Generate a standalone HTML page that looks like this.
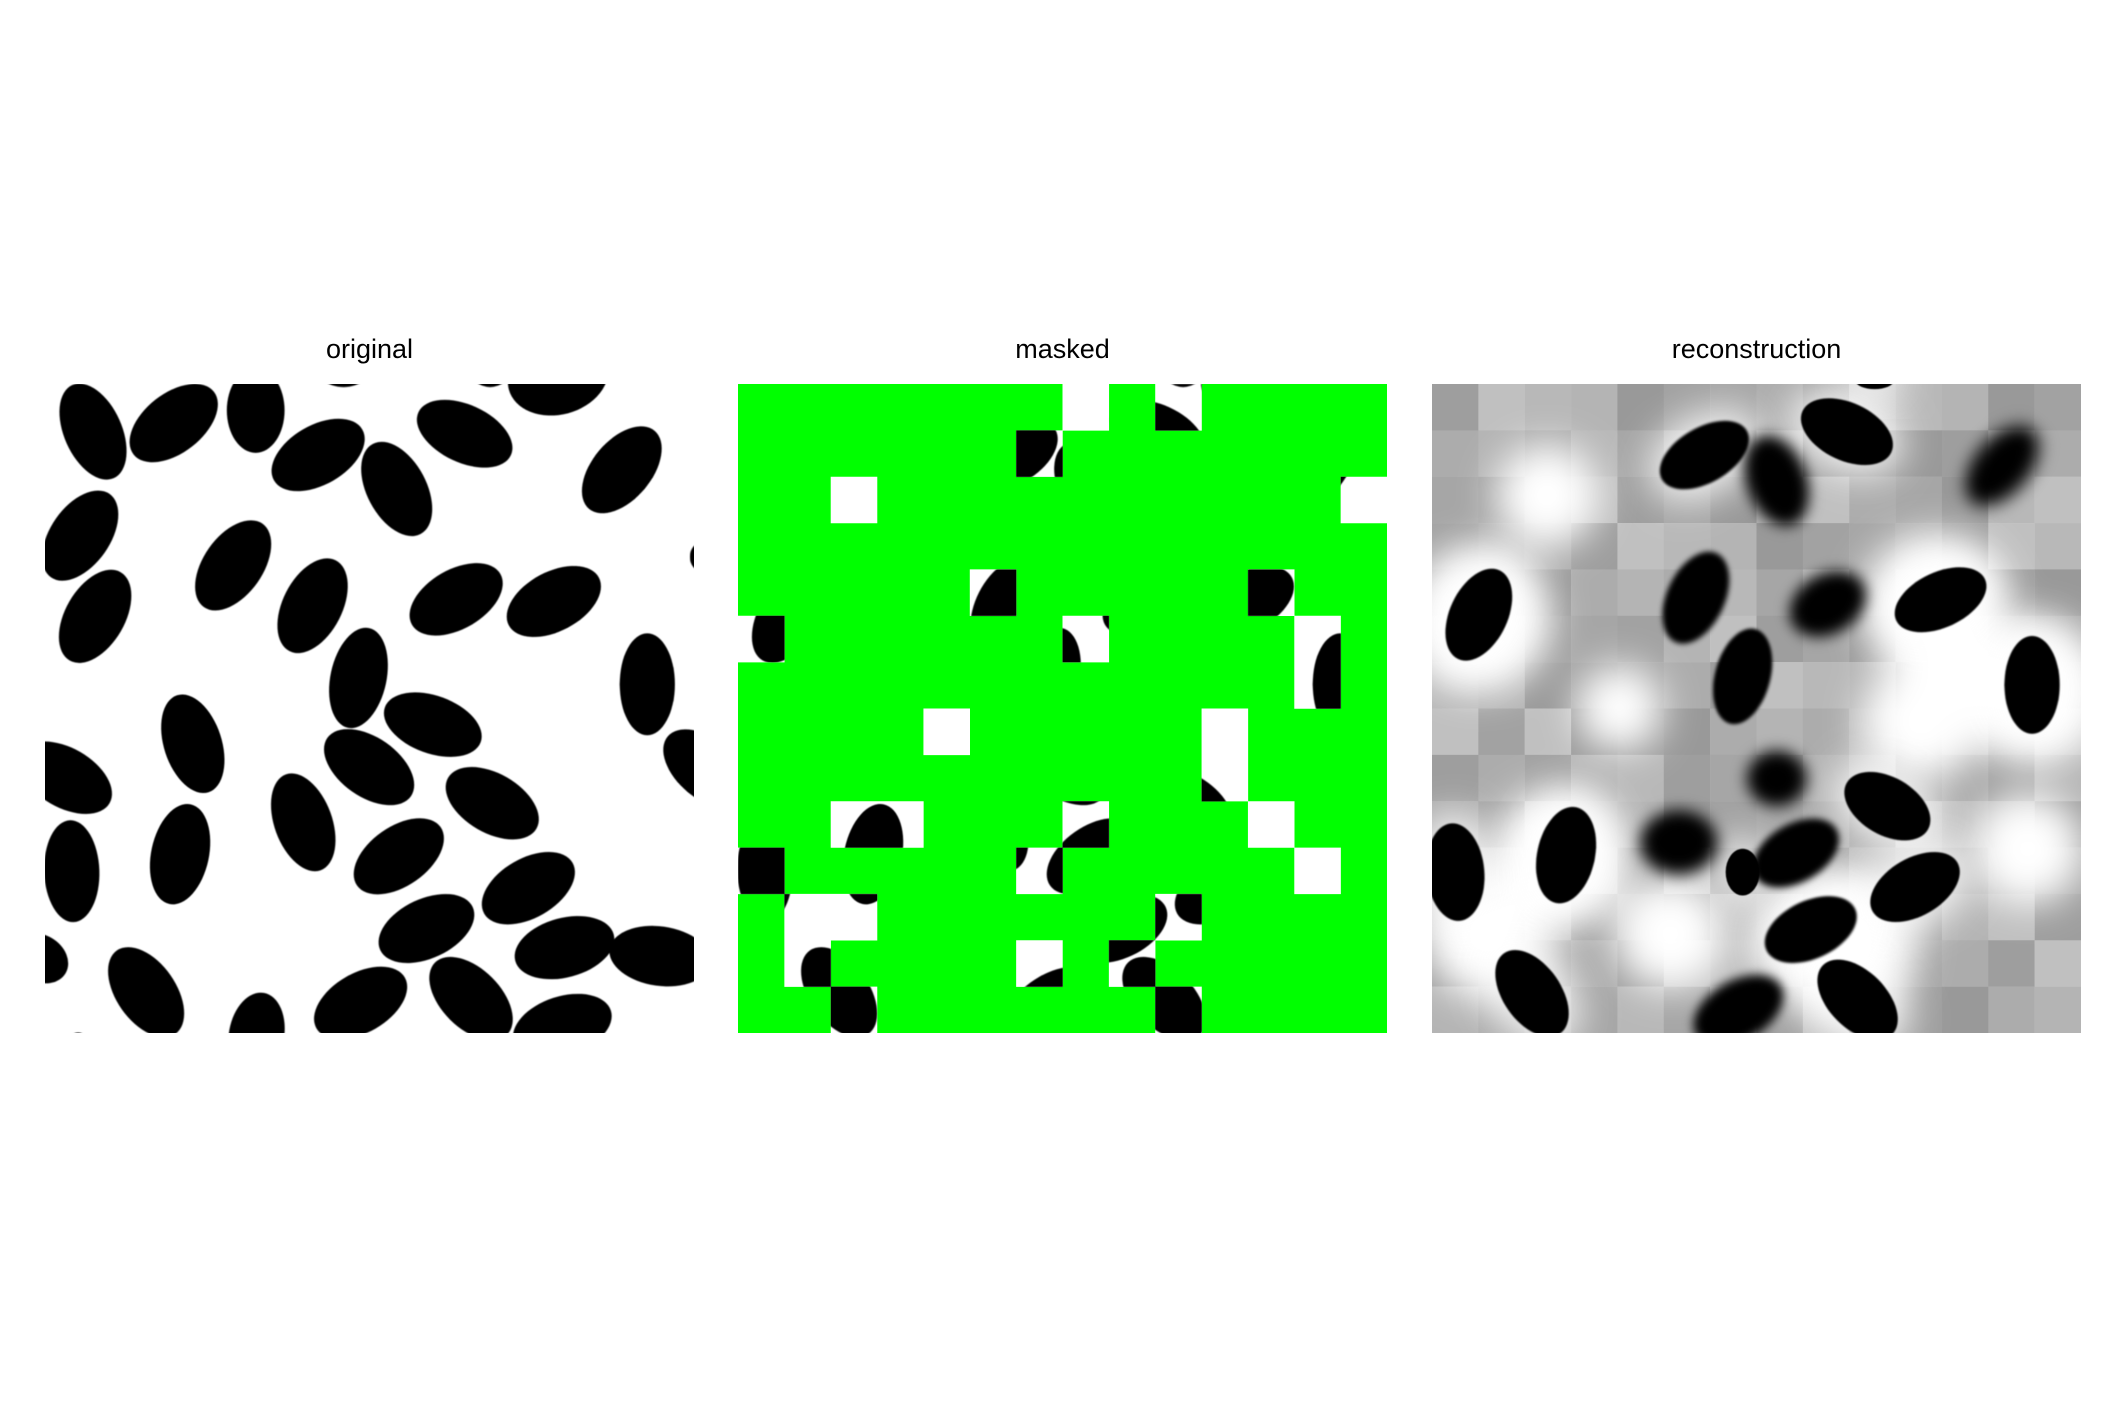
<!DOCTYPE html>
<html><head><meta charset="utf-8">
<style>
html,body{margin:0;padding:0;background:#fff;}
body{width:2125px;height:1417px;position:relative;overflow:hidden;font-family:"Liberation Sans",Arial,sans-serif;}
.title{position:absolute;top:334px;width:649px;text-align:center;font-size:27px;color:#000;}
svg.panel{position:absolute;top:384px;width:649px;height:649px;}
</style></head>
<body>
<div class="title" style="left:45px">original</div>
<div class="title" style="left:738px">masked</div>
<div class="title" style="left:1432px">reconstruction</div>
<svg class="panel" id="p1" style="left:45px" viewBox="12 8 1528 1528" preserveAspectRatio="none"></svg>
<svg class="panel" id="p2" style="left:738px" viewBox="12 8 1528 1528" preserveAspectRatio="none"></svg>
<svg class="panel" id="p3" style="left:1432px" viewBox="0 8 1525 1525" preserveAspectRatio="none"></svg>
<script>
// original ellipses: cx, cy, rx, ry, rotation
const origCx=[125,315,508,715,1060,1220,655,840,1000,1370,95,1560,455,130,642,980,1210,750,1430,360,925,60,775,1570,1065,620,75,330,845,1150,910,0,1235,1460,250,510,755,1015,1230,90];
const origCy=[120,100,70,-40,-30,-10,175,255,125,210,365,415,435,555,530,515,520,700,715,855,810,935,910,915,995,1040,1155,1115,1120,1195,1290,1360,1335,1355,1440,1540,1465,1455,1520,1545];
const origRx=[120,120,100,70,50,120,120,120,120,120,120,30,120,120,120,120,120,120,120,120,120,120,120,120,120,120,120,120,120,120,120,70,120,120,120,100,120,120,120,15];
const origRy=[68,70,68,55,45,90,70,70,68,70,70,35,70,70,70,70,70,66,65,68,68,70,70,70,70,68,65,68,70,70,70,55,70,70,70,65,70,70,70,10];
const origRot=[66,-38,90,0,0,-15,-30,62,25,-50,-55,0,-55,-60,-63,-30,-28,-78,90,72,20,30,35,40,30,70,88,-78,-35,-30,-25,30,-15,8,55,-80,-30,45,-18,0];
// visible (unmasked) patches: column, row on a 14x14 grid
const visCol=[7,9,6,2,13,5,11,0,7,12,12,4,10,10,2,3,7,11,0,6,12,1,2,9,1,6,8,2,9];
const visRow=[0,0,1,2,2,4,4,5,5,5,6,7,7,8,9,9,9,9,10,10,10,11,11,11,12,12,12,13,13];
// reconstruction ellipses: cx, cy, rx, ry, rotation, blur
const recCx=[640,975,1040,810,1340,110,620,930,1195,730,1410,810,1070,55,315,580,855,1135,890,235,720,1000,730];
const recCy=[175,120,0,235,200,550,510,525,515,695,715,935,1000,1155,1115,1085,1110,1190,1290,1440,1480,1455,1155];
const recRx=[115,115,45,110,110,115,115,95,115,115,115,70,110,115,115,90,110,115,115,115,115,115,40];
const recRy=[65,68,20,70,65,68,68,70,65,65,65,65,68,68,68,75,68,68,68,68,70,68,55];
const recRot=[-30,25,0,70,-50,-65,-65,-30,-25,-75,90,0,30,85,-78,0,-30,-30,-25,55,-30,45,0];
const recBlur=[3,2,1,16,20,2,6,16,2,4,2,18,2,2,2,18,8,2,3,2,12,2,1];
// reconstruction white halo blobs
const haloX=[270,1150,1400,130,110,1410,300,960,1180,560,440];
const haloY=[270,800,1100,1300,560,730,1120,1320,530,1300,770];
const haloR=[120,140,130,150,170,170,160,180,170,130,100];
// gray patch shades for reconstruction
const patchShade=['#9e9e9e','#b4b4b4','#a6a6a6','#c0c0c0','#999','#acacac','#b8b8b8','#a2a2a2'];

const NS='http://www.w3.org/2000/svg';
function mk(tag,attrs){const e=document.createElementNS(NS,tag);for(const k in attrs)e.setAttribute(k,attrs[k]);return e;}
function ellipse(parent,i,cx,cy,rx,ry,rot,name){
  const e=mk('ellipse',{cx:cx[i],cy:cy[i],rx:rx[i],ry:ry[i],fill:'#000',transform:`rotate(${rot[i]} ${cx[i]} ${cy[i]})`});
  
  
  parent.appendChild(e);return e;
}
// Panel 1
const p1=document.getElementById('p1');
p1.appendChild(mk('rect',{x:0,y:0,width:1600,height:1600,fill:'#fff'}));
const d1=mk('defs',{});d1.innerHTML='<filter id="soft"><feGaussianBlur stdDeviation="1.5"/></filter><clipPath id="c1"><rect x="12" y="8" width="1528" height="1528"/></clipPath>';p1.appendChild(d1);
const g1=mk('g',{filter:'url(#soft)','clip-path':'url(#c1)'});p1.appendChild(g1);
for(let i=0;i<origCx.length;i++)ellipse(g1,i,origCx,origCy,origRx,origRy,origRot,'original-ellipse');
// Panel 2
const p2=document.getElementById('p2');
const bg2=mk('rect',{x:0,y:0,width:1600,height:1600,fill:'#00ff00'});


p2.appendChild(bg2);
const cell=1528/14;
const d2=mk('defs',{});
const cp=mk('clipPath',{id:'c2'});
for(let k=0;k<visCol.length;k++){cp.appendChild(mk('rect',{x:12+visCol[k]*cell,y:8+visRow[k]*cell,width:cell+0.5,height:cell+0.5}));}
d2.appendChild(cp);d2.appendChild(mk('filter',{id:'soft2'})).appendChild(mk('feGaussianBlur',{stdDeviation:1.5}));
p2.appendChild(d2);
const g2=mk('g',{'clip-path':'url(#c2)'});p2.appendChild(g2);
g2.appendChild(mk('rect',{x:0,y:0,width:1600,height:1600,fill:'#fff'}));
const g2b=mk('g',{filter:'url(#soft2)'});g2.appendChild(g2b);
for(let i=0;i<origCx.length;i++)ellipse(g2b,i,origCx,origCy,origRx,origRy,origRot,'visible-ellipse');
// Panel 3
const p3=document.getElementById('p3');
const d3=mk('defs',{});d3.innerHTML='<filter id="halo" x="-50%" y="-50%" width="200%" height="200%"><feGaussianBlur stdDeviation="45"/></filter><clipPath id="c3"><rect x="0" y="8" width="1525" height="1525"/></clipPath>';
for(let i=0;i<recBlur.length;i++){d3.innerHTML+=`<filter id="rb${i}" x="-50%" y="-50%" width="200%" height="200%"><feGaussianBlur stdDeviation="${recBlur[i]}"/></filter>`;}
p3.appendChild(d3);
const g3=mk('g',{'clip-path':'url(#c3)'});p3.appendChild(g3);
const rc=1525/14;
for(let r=0;r<14;r++)for(let c=0;c<14;c++){
  const pr=mk('rect',{x:c*rc,y:8+r*rc,width:rc+0.5,height:rc+0.5,fill:patchShade[(r*5+c*3+((r*c)%3))%patchShade.length]});
  
  
  g3.appendChild(pr);
}
const gh=mk('g',{filter:'url(#halo)'});g3.appendChild(gh);
for(let i=0;i<haloX.length;i++){const h=mk('circle',{cx:haloX[i],cy:haloY[i],r:haloR[i],fill:'#fff'});
  
  
  gh.appendChild(h);}
for(let i=0;i<recCx.length;i++){
  if(recBlur[i]<=3){const w=mk('ellipse',{cx:recCx[i],cy:recCy[i],rx:recRx[i]+25,ry:recRy[i]+25,fill:'#fff',transform:`rotate(${recRot[i]} ${recCx[i]} ${recCy[i]})`,filter:'url(#halo)',opacity:0.9});
    
    
    g3.appendChild(w);}
}
for(let i=0;i<recCx.length;i++){
  const e=ellipse(g3,i,recCx,recCy,recRx,recRy,recRot,'recon-ellipse');
  e.setAttribute('filter',`url(#rb${i})`);
}
</script>
</body></html>
